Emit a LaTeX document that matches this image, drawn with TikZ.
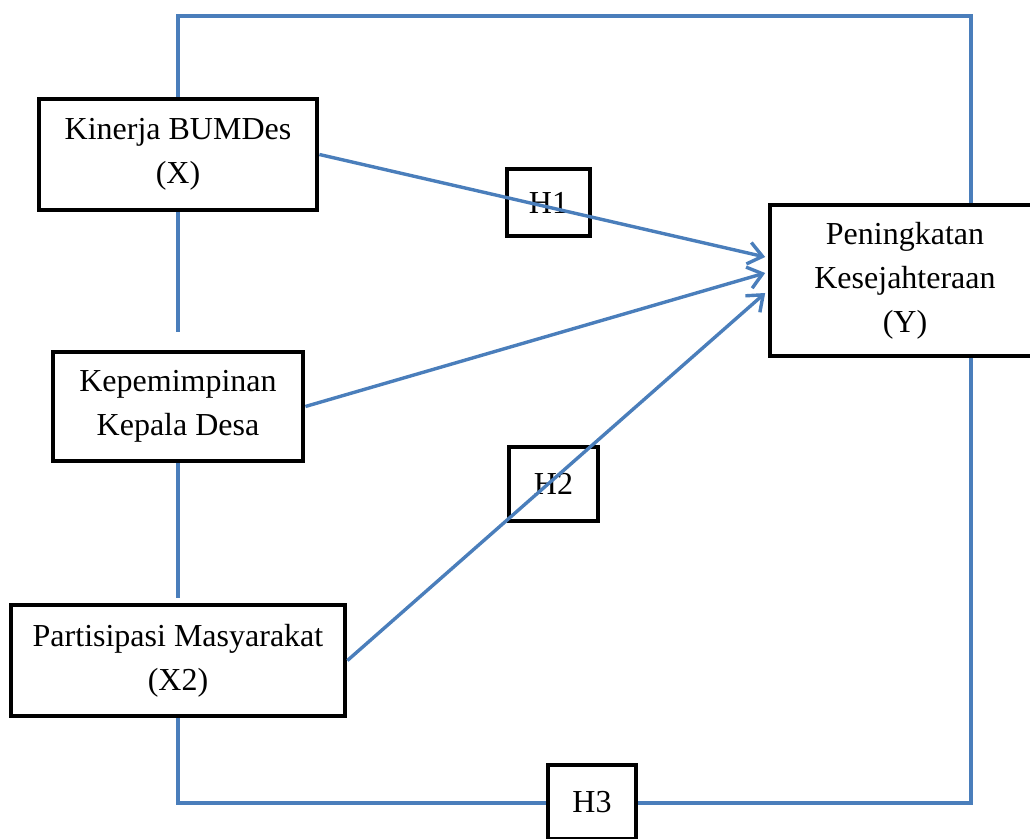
\documentclass[tikz,border=0pt]{standalone}
\usepackage{fontspec}
\setmainfont{Liberation Serif}
\usetikzlibrary{arrows.meta}
\definecolor{linkblue}{RGB}{74,126,187}

\begin{document}
\begin{tikzpicture}[x=0.5pt,y=-0.5pt,
  varbox/.style = {draw=black, line width=2.4pt, fill=white, align=center, inner sep=0pt,
                   font=\fontsize{16}{22}\selectfont},
  hbox/.style = {varbox, minimum width=43pt, minimum height=35pt},
  link/.style = {draw=linkblue, line width=1.7pt},
  effect/.style = {link, -{Straight Barb[length=7pt,width=11pt,line width=1.7pt]}}]
  \useasboundingbox (0,0) rectangle (1030,839);

  \node[varbox, minimum width=139pt, minimum height=55.5pt] (kinerja) at (178,154.5) {Kinerja BUMDes\\(X)};
  \node[varbox, minimum width=125pt, minimum height=54.5pt] (kepala) at (178,406.5) {Kepemimpinan\\Kepala Desa};
  \node[varbox, minimum width=167pt, minimum height=55.5pt] (partisipasi) at (178,660.5) {Partisipasi Masyarakat\\(X2)};
  \node[varbox, minimum width=135pt, minimum height=75.5pt] (sejahtera) at (905,280.5) {Peningkatan\\Kesejahteraan\\(Y)};

  \node[hbox, minimum width=41.5pt, minimum height=33.5pt] (h1) at (548.5,202.5) {H1};
  \node[hbox, minimum width=44.5pt, minimum height=37pt] (h2) at (553.5,484) {H2};

  \coordinate (topL) at (178,16);
  \coordinate (topR) at (971,16);
  \coordinate (botL) at (178,803);
  \coordinate (botR) at (971,803);
  \coordinate (gapA) at (178,332);
  \coordinate (gapB) at (178,598);

  % frame round the model
  \draw[link] (kinerja.north) -- (topL) -- (topR) -- (sejahtera.north -| topR);
  \draw[link] (kinerja.south) -- (gapA);
  \draw[link] (kepala.south) -- (gapB);
  \draw[link] (partisipasi.south) -- (botL) -- (botR) -- (sejahtera.south -| botR);

  \draw[effect] (kinerja.east) -- ([xshift=-1.2pt,yshift=11.75pt]sejahtera.west);
  \draw[effect] (kepala.east) -- ([xshift=-1.2pt,yshift=3.75pt]sejahtera.west);
  \draw[effect] (partisipasi.east) -- ([xshift=-1.2pt,yshift=-6.25pt]sejahtera.west);

  \node[hbox, minimum width=44pt, minimum height=37pt] (h3) at (592,802) {H3};
\end{tikzpicture}
\end{document}
